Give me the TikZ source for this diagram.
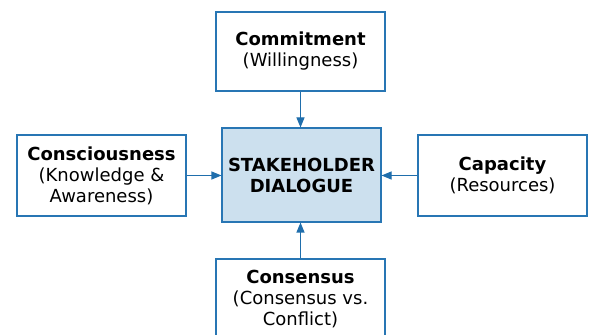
\documentclass[tikz,border=0pt]{standalone}
\usepackage{fontspec}
\setmainfont{DejaVu Sans}
\usetikzlibrary{arrows.meta}
\definecolor{boxline}{RGB}{40,118,180}
\definecolor{boxfill}{RGB}{204,224,238}
\definecolor{arrowcol}{RGB}{31,110,172}
\tikzset{
  box/.style={draw=boxline, line width=1.1pt, fill=white, minimum width=169pt, minimum height=80pt, inner sep=0pt, align=center, font=\fontsize{18pt}{21pt}\selectfont},
  centerbox/.style={box, fill=boxfill, minimum width=159pt, minimum height=94pt},
  conn/.style={draw=arrowcol, line width=1.1pt, -{Triangle[length=10pt,width=8pt]}}
}
\begin{document}
\begin{tikzpicture}[x=1pt,y=1pt]
\useasboundingbox (0,0) rectangle (590,335);
\node[centerbox] (c) at (301.5,160) {\textbf{STAKEHOLDER}\\\textbf{DIALOGUE}};
\node[box, minimum height=79pt] (t) at (300.5,283.5) {\textbf{Commitment}\\(Willingness)};
\node[box, minimum height=81pt] (l) at (101.5,159.5) {\textbf{Consciousness}\\(Knowledge \&\\Awareness)};
\node[box, minimum height=81pt] (r) at (502.5,159.5) {\textbf{Capacity}\\(Resources)};
\node[box, minimum height=80pt] (b) at (300.5,36) {\textbf{Consensus}\\(Consensus vs.\\Conflict)};
\draw[conn] (t.south) -- (t.south |- c.north);
\draw[conn] (b.north) -- (b.north |- c.south);
\draw[conn] (l.east) -- (l.east -| c.west);
\draw[conn] (r.west) -- (r.west -| c.east);
\end{tikzpicture}
\end{document}
